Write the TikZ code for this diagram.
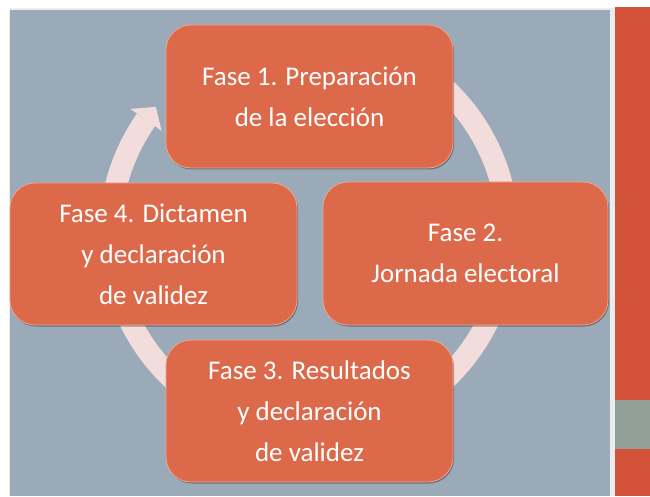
\documentclass[tikz,border=0pt]{standalone}
\usepackage{fontspec}
\setmainfont{Carlito}
\usetikzlibrary{shadows,calc}
\definecolor{bgblue}{HTML}{9BAAB9}
\definecolor{boxfill}{HTML}{DD694B}
\definecolor{boxedge}{HTML}{F2A48C}
\definecolor{ringpink}{HTML}{F2DCDC}
\definecolor{stripred}{HTML}{D2523A}
\definecolor{stripgreen}{HTML}{91A098}
\tikzset{
  phase/.style={draw=boxedge, line width=0.8pt, fill=boxfill, rounded corners=25pt,
    minimum width=287pt, minimum height=143pt, inner sep=0pt, align=center,
    text=white, font=\fontsize{27}{41}\selectfont,
    drop shadow={shadow xshift=1pt, shadow yshift=-1.5pt, opacity=0.35, fill=black}},
  ring/.style={line width=22pt, draw=ringpink}
}
\begin{document}
\begin{tikzpicture}[x=1pt,y=1pt]
\useasboundingbox (0,0) rectangle (650,496);
\fill[white] (0,0) rectangle (650,496);
% background panel
\fill[gray!15] (9,0) rectangle (615,488);
\fill[bgblue] (10,0) rectangle (610,486);
% right strip
\fill[stripred] (615,0) rectangle (650,489);
\fill[stripgreen] (615,47) rectangle (650,96);
% ring arrow
\coordinate (C) at (309,262);
\draw[ring] ($(C)+(60:199)$) arc[start angle=60, end angle=-215, radius=199];
\fill[ringpink] ($(C)+(145:218)$) -- ($(C)+(140.3:199)$) -- ($(C)+(145:180)$) -- cycle;
% boxes
\node[phase] (p1) at (309.5,399.5) {Fase 1. Preparación\\de la elección};
\node[phase, minimum width=285pt] (p2) at (465.5,242.5) {Fase 2.\\Jornada electoral};
\node[phase, minimum height=142pt] (p3) at (309.5,85) {Fase 3. Resultados\\y declaración\\de validez};
\node[phase, minimum height=142pt] (p4) at (153.5,242) {Fase 4. Dictamen\\y declaración\\de validez};
\end{tikzpicture}
\end{document}
